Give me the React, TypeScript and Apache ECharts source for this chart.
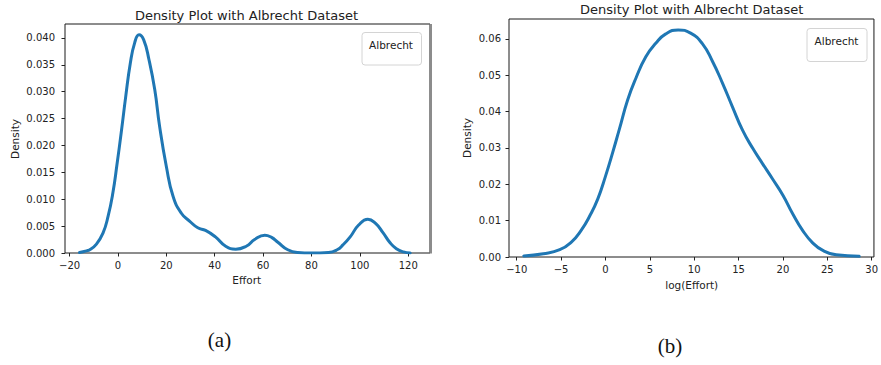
import React, { useEffect, useRef } from "react";
import * as echarts from "echarts";

// (a) Effort density
const effortX = [-15.9, -13, -11.7, -9, -6.2, -4.1, -2.1, -0.4, 1.4, 3.2, 5.1, 6.9, 8.7, 10.6, 12.8, 15.2, 17.2, 20, 22.8, 26.2, 29.7, 33, 36.2, 40.3, 44.4, 48.7, 53.2, 56.5, 60.7, 63.5, 66.1, 70.2, 74.3, 80, 87, 90.6, 93, 96, 99.5, 103.3, 106.5, 109.7, 112.5, 115.1, 118, 120.8];
const effortDensity = [0.0001, 0.0004, 0.0006, 0.0016, 0.0037, 0.0068, 0.0112, 0.0165, 0.0226, 0.0291, 0.0353, 0.0391, 0.0406, 0.0397, 0.036, 0.0304, 0.0236, 0.0161, 0.0105, 0.0074, 0.0059, 0.0047, 0.0042, 0.003, 0.0013, 0.0007, 0.0013, 0.0025, 0.0033, 0.0029, 0.002, 0.0006, 0.0001, 0.0, 0.0001, 0.0006, 0.0015, 0.003, 0.0052, 0.0063, 0.0055, 0.0037, 0.0019, 0.0008, 0.0002, 0.0];

// (b) log(Effort) density
const logEffortX = [-9.2, -7.0, -5.15, -3.84, -2.72, -1.79, -0.86, 0, 0.82, 1.57, 2.5, 3.43, 4.55, 5.67, 6.8, 8.2, 9.6, 10.9, 12.07, 13.2, 14.3, 15.45, 16.6, 17.7, 18.8, 20, 21.1, 22.2, 23.35, 24.5, 26, 28.6];
const logEffortDensity = [0.0003, 0.0009, 0.002, 0.0041, 0.0074, 0.0112, 0.016, 0.0222, 0.0288, 0.0352, 0.0432, 0.0492, 0.0551, 0.0588, 0.0614, 0.0625, 0.0616, 0.0588, 0.0538, 0.0478, 0.0414, 0.0349, 0.0299, 0.0257, 0.0216, 0.017, 0.0119, 0.0074, 0.0039, 0.0018, 0.0006, 0.0002];

const xTicksA = [-20, 0, 20, 40, 60, 80, 100, 120];
const yTicksA = [0, 0.005, 0.01, 0.015, 0.02, 0.025, 0.03, 0.035, 0.04];
const xTicksB = [-10, -5, 0, 5, 10, 15, 20, 25, 30];
const yTicksB = [0, 0.01, 0.02, 0.03, 0.04, 0.05, 0.06];

const titleText = "Density Plot with Albrecht Dataset";
const legendText = "Albrecht";
const xNameA = "Effort";
const xNameB = "log(Effort)";
const yName = "Density";
const captions = ["(a)", "(b)"];

const FONT = "DejaVu Sans";
const INK = "#222";
const LINE = "#1f77b4";

const minus = (s: string) => s.replace("-", "\u2212");

export default function App() {
  const ref = useRef<HTMLDivElement>(null);
  useEffect(() => {
    if (!ref.current) return;
    const chart = echarts.init(ref.current, undefined, { renderer: "svg" });
    const zip = (xs: number[], ys: number[]) => xs.map((x, i) => [x, ys[i]]);

    const xAxisBase = (gridIndex: number, min: number, max: number, ticks: number[]) => ({
      type: "value",
      gridIndex,
      min,
      max,
      position: "bottom",
      axisLine: { show: false, onZero: false },
      splitLine: { show: false },
      axisTick: { show: true, length: 3.5, customValues: ticks, lineStyle: { color: INK, width: 1 } },
      axisLabel: {
        customValues: ticks,
        margin: 7,
        fontFamily: FONT,
        fontSize: 10,
        color: INK,
        formatter: (v: number) => minus(String(v)),
      },
    });
    const yAxisBase = (gridIndex: number, min: number, max: number, ticks: number[], digits: number, margin: number) => ({
      type: "value",
      gridIndex,
      min,
      max,
      position: "left",
      axisLine: { show: false, onZero: false },
      splitLine: { show: false },
      axisTick: { show: true, length: 3.5, customValues: ticks, lineStyle: { color: INK, width: 1 } },
      axisLabel: {
        customValues: ticks,
        margin,
        fontFamily: FONT,
        fontSize: 10,
        color: INK,
        formatter: (v: number) => v.toFixed(digits),
      },
    });

    const textEl = (x: number, y: number, text: string, size: number, extra: any = {}) => ({
      type: "text",
      x,
      y,
      ...extra,
      style: {
        text,
        fontFamily: FONT,
        fontSize: size,
        fill: INK,
        textAlign: "center",
        textVerticalAlign: "middle",
        ...(extra.style || {}),
      },
    });

    chart.setOption({
      animation: false,
      backgroundColor: "#fff",
      grid: [
        { left: 65, top: 24, width: 365, height: 229, show: true, borderColor: "#1a1a1a", borderWidth: 1, backgroundColor: "transparent" },
        { left: 509, top: 19, width: 366, height: 238, show: true, borderColor: "#1a1a1a", borderWidth: 1, backgroundColor: "transparent" },
      ],
      xAxis: [xAxisBase(0, -21.9, 129.0, xTicksA), xAxisBase(1, -10.87, 30.26, xTicksB)],
      yAxis: [yAxisBase(0, 0, 0.0426, yTicksA, 3, 10), yAxisBase(1, 0, 0.0655, yTicksB, 2, 8)],
      series: [
        {
          type: "line",
          xAxisIndex: 0,
          yAxisIndex: 0,
          data: zip(effortX, effortDensity),
          smooth: 0.5,
          showSymbol: false,
          symbol: "none",
          lineStyle: { color: LINE, width: 3, cap: "round", join: "round" },
        },
        {
          type: "line",
          xAxisIndex: 1,
          yAxisIndex: 1,
          data: zip(logEffortX, logEffortDensity),
          smooth: 0.5,
          showSymbol: false,
          symbol: "none",
          lineStyle: { color: LINE, width: 3, cap: "round", join: "round" },
        },
      ],
      graphic: [
        // right edge shading of panel (a)
        { type: "rect", shape: { x: 429.5, y: 24, width: 2.5, height: 229.5 }, style: { fill: "#8c8c8c" } },
        textEl(246.5, 15, titleText, 13),
        textEl(691.7, 9.5, titleText, 13),
        textEl(246.7, 280, xNameA, 10.5),
        textEl(691.7, 285, xNameB, 10.5),
        textEl(15, 139, yName, 10.5, { rotation: Math.PI / 2 }),
        textEl(467, 138, yName, 10.5, { rotation: Math.PI / 2 }),
        { type: "rect", shape: { x: 362, y: 32.5, width: 59.5, height: 32.5, r: 3 }, style: { fill: "#fff", stroke: "#d4d4d4", lineWidth: 1 } },
        textEl(391, 45, legendText, 10.5),
        { type: "rect", shape: { x: 807, y: 28.5, width: 60, height: 33, r: 3 }, style: { fill: "#fff", stroke: "#d4d4d4", lineWidth: 1 } },
        textEl(836.5, 41, legendText, 10.5),
        textEl(219.5, 340, captions[0], 21, { style: { fontFamily: "Liberation Serif", fill: "#111" } }),
        textEl(670, 346, captions[1], 21, { style: { fontFamily: "Liberation Serif", fill: "#111" } }),
      ],
    });
    return () => chart.dispose();
  }, []);
  return (
    <div
      ref={ref}
      style={{ position: "fixed", left: 0, top: 0, width: 881, height: 365, background: "#fff" }}
    />
  );
}
